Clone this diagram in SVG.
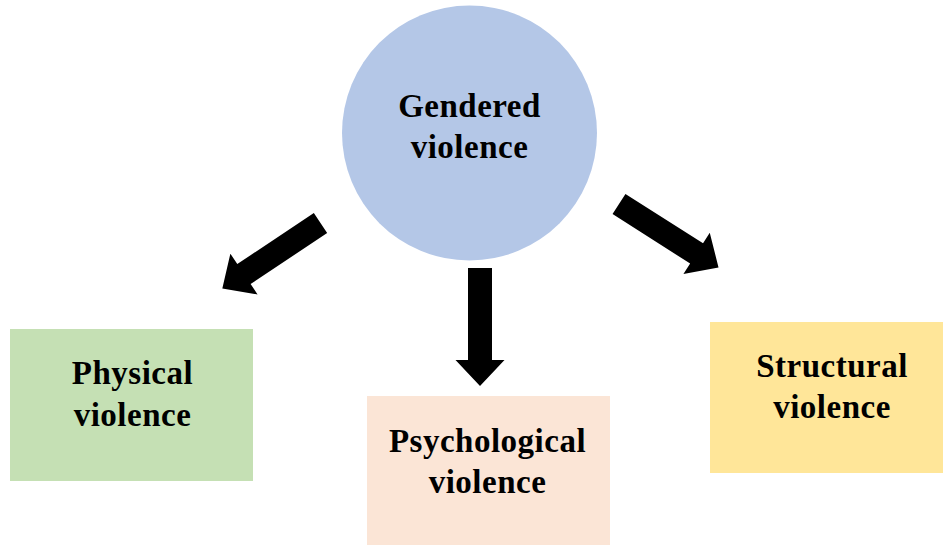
<svg xmlns="http://www.w3.org/2000/svg" width="943" height="545" viewBox="0 0 943 545">
<style>
.t{font-family:"Liberation Serif","Times New Roman",serif;font-weight:bold;font-size:33px;letter-spacing:0.5px;fill:#000;text-anchor:middle}
</style>
<defs>
<path id="arr" d="M0,-12 L92,-12 L92,-24.5 L118,0 L92,24.5 L92,12 L0,12 Z" fill="#000"/>
</defs>
<rect width="943" height="545" fill="#fff"/>
<g id="connectors">
<use href="#arr" transform="translate(320.5,223) rotate(146.3)"/>
<use href="#arr" transform="translate(480,268) rotate(90)"/>
<use href="#arr" transform="translate(619,204) rotate(32.5)"/>
</g>
<g id="gendered">
<circle cx="469.5" cy="133" r="127.5" fill="#B4C7E7"/>
<text class="t" x="469.5" y="117">Gendered</text>
<text class="t" x="469.5" y="158">violence</text>
</g>
<g id="physical">
<rect x="10" y="329" width="243" height="152" fill="#C5E0B4"/>
<text class="t" x="132.5" y="384">Physical</text>
<text class="t" x="132.5" y="426">violence</text>
</g>
<g id="psychological">
<rect x="367" y="396" width="243" height="149" fill="#FBE5D6"/>
<text class="t" x="487.5" y="452">Psychological</text>
<text class="t" x="487.5" y="493">violence</text>
</g>
<g id="structural">
<rect x="710" y="322" width="233" height="151" fill="#FFE699"/>
<text class="t" x="832" y="377">Structural</text>
<text class="t" x="832" y="418">violence</text>
</g>
</svg>
